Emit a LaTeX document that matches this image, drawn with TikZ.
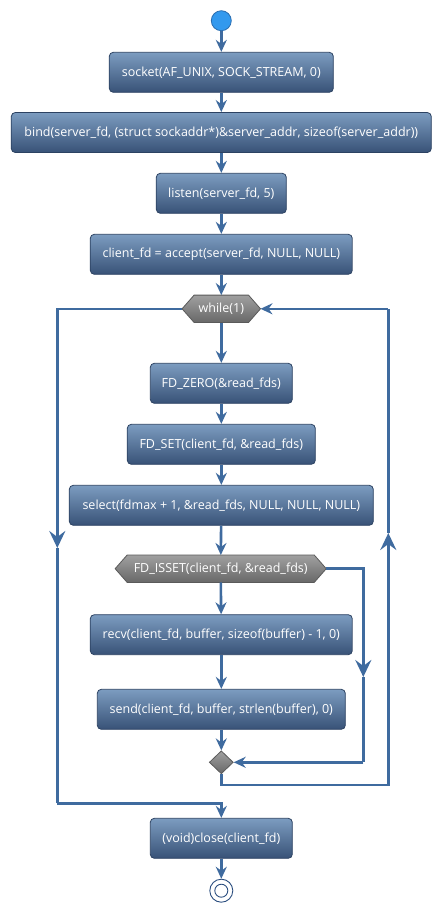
\documentclass[tikz,border=0pt]{standalone}
\usepackage{fontspec}
\setmainfont{Open Sans}
\usetikzlibrary{arrows.meta,calc,shapes.geometric}
\definecolor{boxtop}{HTML}{7C9CC0}
\definecolor{boxbot}{HTML}{385277}
\definecolor{boxline}{HTML}{2C4262}
\definecolor{flow}{HTML}{3F6B9F}
\definecolor{hextop}{HTML}{A0A0A0}
\definecolor{hexbot}{HTML}{686868}
\definecolor{hexline}{HTML}{5A5A5A}
\definecolor{startfill}{HTML}{3399EE}
\definecolor{startline}{HTML}{2A6DB0}
\definecolor{endline}{HTML}{2C4F80}
\tikzset{
  x=1pt,y=-1pt,
  act/.style={draw=boxline,line width=0.8pt,rounded corners=4pt,top color=boxtop,bottom color=boxbot,
    text=white,font=\fontsize{12.5}{14}\selectfont,minimum height=40pt,inner sep=0pt,anchor=center},
  hexa/.style={minimum height=27pt,inner sep=0pt,text=white,font=\fontsize{12.5}{14}\selectfont},
  flowline/.style={draw=flow,line width=2.6pt},
  arr/.style={flowline,-{Stealth[length=12pt,width=11pt,inset=4pt]}},
  midarr/.style={flowline,-{Stealth[length=17pt,width=16pt,inset=6pt]}},
}
\newcommand{\hexdraw}[1]{%
  \path[draw=hexline,line width=0.8pt,top color=hextop,bottom color=hexbot]
    (#1.west) -- ($(#1.north west)+(12,0)$) -- ($(#1.north east)+(-12,0)$) -- (#1.east)
    -- ($(#1.south east)+(-12,0)$) -- ($(#1.south west)+(12,0)$) -- cycle;}
\begin{document}
\begin{tikzpicture}
\useasboundingbox (0,0) rectangle (441,913);
\fill[white] (0,0) rectangle (441,913);
% start
\node[circle,fill=startfill,draw=startline,line width=0.8pt,minimum size=20pt,inner sep=0pt] (start) at (221.3,20.7) {};
\node[act,minimum width=224pt] (socket) at (221.3,72.3) {socket(AF\_UNIX, SOCK\_STREAM, 0)};
\node[act,minimum width=420pt] (bind) at (221.3,132.5) {bind(server\_fd, (struct sockaddr*)\&server\_addr, sizeof(server\_addr))};
\node[act,minimum width=130pt] (listen) at (221.3,193.3) {listen(server\_fd, 5)};
\node[act,minimum width=262pt] (accept) at (221.3,254.3) {client\_fd = accept(server\_fd, NULL, NULL)};
\node[hexa,minimum width=78pt] (while) at (221.3,308.8) {};
\hexdraw{while}
\node[hexa,minimum width=78pt] at (while) {while(1)};
\node[act,minimum width=142pt] (zero) at (221.3,383.3) {FD\_ZERO(\&read\_fds)};
\node[act,minimum width=188pt] (set) at (221.3,444.3) {FD\_SET(client\_fd, \&read\_fds)};
\node[act,minimum width=304pt] (select) at (221.3,505.3) {select(fdmax + 1, \&read\_fds, NULL, NULL, NULL)};
\node[hexa,minimum width=210.7pt] (isset) at (220.7,568.7) {};
\hexdraw{isset}
\node[hexa,minimum width=210.7pt] at (isset) {FD\_ISSET(client\_fd, \&read\_fds)};
\node[act,minimum width=262pt] (recv) at (221.3,634.7) {recv(client\_fd, buffer, sizeof(buffer) - 1, 0)};
\node[act,minimum width=248pt] (send) at (221.3,709.3) {send(client\_fd, buffer, strlen(buffer), 0)};
\node[diamond,draw=hexline,line width=0.8pt,top color=hextop,bottom color=hexbot,minimum width=24pt,minimum height=23pt,inner sep=0pt] (merge) at (221.3,762.3) {};
\node[act,minimum width=142pt] (close) at (221.3,838.3) {(void)close(client\_fd)};
\node[circle,draw=endline,fill=white,line width=0.9pt,minimum size=23pt,inner sep=0pt] (end) at (221.3,890.7) {};
\node[circle,draw=endline,fill=white,line width=0.9pt,minimum size=13pt,inner sep=0pt] at (end) {};
% straight flow
\draw[arr] (start) -- (socket);
\draw[arr] (socket) -- (bind);
\draw[arr] (bind) -- (listen);
\draw[arr] (listen) -- (accept);
\draw[arr] (accept) -- (while);
\draw[arr] (while) -- (zero);
\draw[arr] (zero) -- (set);
\draw[arr] (set) -- (select);
\draw[arr] (select) -- (isset);
\draw[arr] (isset) -- (recv);
\draw[arr] (recv) -- (send);
\draw[arr] (send) -- (merge.north);
\draw[arr] (close) -- (end);
% exit loop
\coordinate (lmid) at (57.3,548);
\coordinate (lbot) at (57.3,803.3);
\draw[midarr] (while.west) -| (lmid);
\draw[flowline] (lmid) -- (lbot);
\draw[arr] (lbot) -| (close.north);
% false branch
\coordinate (rmid) at (363.3,677);
\coordinate (rbot) at (363.3,762.3);
\draw[midarr] (isset.east) -| (rmid);
\draw[flowline] (rmid) -- (rbot);
\draw[arr] (rbot) -- (merge.east);
% loop back
\coordinate (bbot) at (388.3,785);
\coordinate (bmid) at (388.3,533);
\coordinate (btop) at (388.3,308.8);
\draw[midarr] (merge.south) |- (bbot) -- (bmid);
\draw[flowline] (bmid) -- (btop);
\draw[arr] (btop) -- (while.east);
\end{tikzpicture}
\end{document}
